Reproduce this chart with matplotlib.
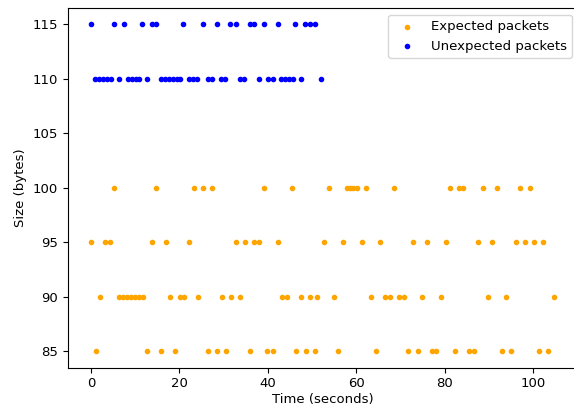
import matplotlib
matplotlib.use("Agg")
import matplotlib.pyplot as plt

# expected packets: time (s) per packet size level
exp_85 = [1.1, 12.7, 15.8, 19.0, 26.4, 28.6, 30.6, 35.9, 39.9, 41.2, 46.3, 48.6, 50.7,
          55.8, 64.5, 71.7, 73.9, 77.0, 78.0, 82.2, 85.4, 86.6, 92.9, 95.0, 101.2, 103.3]
exp_90 = [2.0, 6.3, 7.2, 8.1, 9.0, 9.9, 10.8, 11.7, 17.9, 20.1, 21.1, 24.2, 29.6, 31.7,
          33.7, 43.1, 44.3, 47.5, 49.5, 51.2, 54.9, 63.3, 66.5, 67.6, 69.7, 70.8, 74.8,
          79.1, 89.7, 93.8, 104.6]
exp_95 = [0.0, 3.1, 4.3, 13.8, 17.0, 22.2, 32.8, 34.8, 36.8, 38.0, 42.2, 52.6, 57.0,
          61.3, 65.3, 72.8, 75.9, 80.3, 87.4, 90.6, 96.0, 98.1, 100.1, 102.3]
exp_100 = [5.2, 14.7, 23.2, 25.3, 27.3, 39.1, 45.4, 53.8, 57.9, 58.6, 59.2, 60.1, 62.2,
           68.5, 81.1, 83.2, 84.2, 88.6, 91.8, 96.9, 99.2]

# unexpected packets
unexp_110 = [1.0, 1.9, 2.8, 3.7, 4.6, 6.4, 8.4, 9.3, 10.2, 10.9, 12.6, 15.8, 16.7, 17.6,
             18.5, 19.4, 20.2, 22.1, 23.0, 23.9, 26.4, 27.3, 29.5, 30.4, 33.6, 34.7,
             38.0, 40.1, 41.2, 43.0, 43.9, 44.8, 45.7, 47.5, 51.9]
unexp_115 = [0.0, 5.2, 7.5, 11.5, 13.8, 14.7, 20.9, 25.3, 28.5, 31.5, 32.7, 35.9, 36.8,
             39.2, 42.2, 46.2, 48.5, 49.6, 50.6]

exp_t = exp_85 + exp_90 + exp_95 + exp_100
exp_s = [85]*len(exp_85) + [90]*len(exp_90) + [95]*len(exp_95) + [100]*len(exp_100)
unexp_t = unexp_110 + unexp_115
unexp_s = [110]*len(unexp_110) + [115]*len(unexp_115)

fig = plt.figure(figsize=(5.74, 4.07), dpi=100)
# right spine falls just outside the picture, as in the reference crop
ax = fig.add_axes([0.118, 0.097, 0.89, 0.883])
ax.scatter(exp_t, exp_s, s=9, color="orange", label="Expected packets")
ax.scatter(unexp_t, unexp_s, s=9, color="blue", label="Unexpected packets")
ax.set_xlim(-5.25, 110.25)
ax.set_xlabel("Time (seconds)", fontsize=9.5, labelpad=2)
ax.set_ylabel("Size (bytes)", fontsize=9.5)
ax.tick_params(labelsize=9.5)
ax.legend(loc="upper right", fontsize=9.5)

fig.savefig("out.png", dpi=100)
